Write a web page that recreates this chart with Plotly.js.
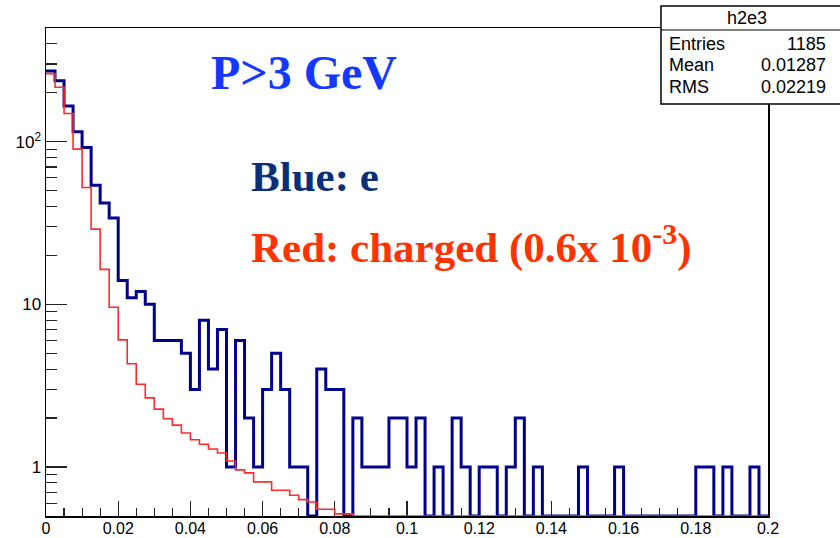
<!DOCTYPE html>
<html>
<head>
<meta charset="utf-8">
<script src="https://cdn.plot.ly/plotly-3.0.1.min.js"></script>
<style>html,body{margin:0;padding:0;background:#fff;}#chart{width:840px;height:538px;}</style>
</head>
<body>
<div id="chart"></div>
<script>
// ---- data ----
const binLow = 0.0;
const binWidth = 0.0025;   // 80 bins from 0 to 0.2
const blueCounts = [272, 237, 166, 115, 92, 54, 42, 34, 14, 11,
                    12, 10, 6, 6, 6, 5, 3, 8, 4, 7,
                    1, 6, 2, 1, 3, 5, 3, 1, 1, 0,
                    4, 3, 3, 0, 2, 1, 1, 1, 2, 2,
                    1, 2, 0, 1, 0, 2, 1, 0, 1, 1,
                    0, 1, 2, 0, 1, 0, 0, 0, 0, 1,
                    0, 0, 0, 1, 0, 0, 0, 0, 0, 0,
                    0, 0, 1, 1, 0, 1, 0, 0, 1, 0];
const redScaled = [262, 216, 149, 90, 52.3, 29.0, 16.4, 9.6, 6.05, 4.31,
                   3.23, 2.66, 2.27, 1.98, 1.81, 1.62, 1.47, 1.38, 1.29, 1.22,
                   1.09, 0.96, 0.92, 0.81, 0.81, 0.72, 0.72, 0.67, 0.63, 0.61,
                   0.55, 0.55, 0.515, 0.515, 0.5, 0.5, 0.5, 0.5, 0.5, 0.5,
                   0.5, 0.5, 0.5, 0.5, 0.5, 0.5, 0.5, 0.5, 0.5, 0.5,
                   0.5, 0.5, 0.5, 0.5, 0.5, 0.5, 0.5, 0.5, 0.5, 0.5,
                   0.5, 0.5, 0.5, 0.5, 0.5, 0.5, 0.5, 0.5, 0.5, 0.5,
                   0.5, 0.5, 0.5, 0.5, 0.5, 0.5, 0.5, 0.5, 0.5, 0.5];
const xTickVals = [0, 0.02, 0.04, 0.06, 0.08, 0.1, 0.12, 0.14, 0.16, 0.18, 0.2];
const yTickVals = [1, 10, 100];
const yTickText = ['1', '10', '10<sup>2</sup>'];
const yMinorVals = [0.6, 0.7, 0.8, 0.9, 2, 3, 4, 5, 6, 7, 8, 9, 20, 30, 40, 50, 60, 70, 80, 90, 200, 300, 400];
const statsTitle = 'h2e3';
const statsNames = ['Entries', 'Mean', 'RMS'];
const statsValues = ['1185', '0.01287', '0.02219'];
const yMin = 0.5, yMax = 500;

// ---- build step traces (ROOT-like: values below the floor are drawn on the floor) ----
function stepXY(vals) {
  const xs = [], ys = [];
  for (let i = 0; i < vals.length; i++) {
    xs.push(binLow + i * binWidth);
    ys.push(Math.max(vals[i], yMin));
  }
  xs.push(binLow + vals.length * binWidth);
  ys.push(Math.max(vals[vals.length - 1], yMin));
  return {xs, ys};
}
const b = stepXY(blueCounts);
const r = stepXY(redScaled);

const traces = [
  {x: b.xs, y: b.ys, type: 'scatter', mode: 'lines', cliponaxis: true,
   line: {shape: 'hv', color: '#00008f', width: 3}, hoverinfo: 'skip', showlegend: false},
  {x: r.xs, y: r.ys, type: 'scatter', mode: 'lines',
   line: {shape: 'hv', color: '#ff2a2a', width: 1.6}, hoverinfo: 'skip', showlegend: false}
];

// plot area in pixels
const L = 46, R = 768, T = 28, B = 516;
const px2x = p => (p - L) / (R - L);
const px2y = p => (B - p) / (B - T);

const serif = 'Liberation Serif, Times New Roman, serif';
const sans = 'Liberation Sans, Arial, Helvetica, sans-serif';

const boxL = 661, boxR = 845, boxT = 6, boxB = 104, boxDiv = 30;

const shapes = [
  {type: 'rect', xref: 'paper', yref: 'paper', layer: 'above',
   x0: px2x(boxL), x1: px2x(boxR), y0: px2y(boxB), y1: px2y(boxT),
   fillcolor: '#ffffff', line: {color: '#000', width: 1.5}},
  {type: 'line', xref: 'paper', yref: 'paper', layer: 'above',
   x0: px2x(boxL), x1: px2x(boxR), y0: px2y(boxDiv), y1: px2y(boxDiv),
   line: {color: '#000', width: 1}}
];

const annotations = [
  {xref: 'paper', yref: 'paper', x: px2x(747), y: px2y(18), text: statsTitle, showarrow: false,
   xanchor: 'center', yanchor: 'middle', font: {family: sans, size: 18, color: '#000'}}
];
const rowY = [44, 65, 87];
for (let i = 0; i < statsNames.length; i++) {
  annotations.push({xref: 'paper', yref: 'paper', x: px2x(667), y: px2y(rowY[i]), text: statsNames[i],
    showarrow: false, xanchor: 'left', yanchor: 'middle', font: {family: sans, size: 18, color: '#000'}});
  annotations.push({xref: 'paper', yref: 'paper', x: px2x(828), y: px2y(rowY[i]), text: statsValues[i],
    showarrow: false, xanchor: 'right', yanchor: 'middle', font: {family: sans, size: 18, color: '#000'}});
}
annotations.push(
  {xref: 'paper', yref: 'paper', x: px2x(209), y: px2y(73), text: '<b>P&gt;3 GeV</b>', showarrow: false,
   xanchor: 'left', yanchor: 'middle', font: {family: serif, size: 48, color: '#1438ff'}},
  {xref: 'paper', yref: 'paper', x: px2x(249), y: px2y(176), text: '<b>Blue: e</b>', showarrow: false,
   xanchor: 'left', yanchor: 'middle', font: {family: serif, size: 43, color: '#0a2f78'}},
  {xref: 'paper', yref: 'paper', x: px2x(249), y: px2y(244), text: '<b>Red: charged (0.6x 10<sup>-3</sup>)</b>', showarrow: false,
   xanchor: 'left', yanchor: 'middle', font: {family: serif, size: 43, color: '#ff3300'}}
);

const layout = {
  width: 840, height: 538,
  margin: {l: L, r: 840 - R, t: T, b: 538 - B, pad: 0},
  paper_bgcolor: '#fff', plot_bgcolor: '#fff',
  showlegend: false,
  xaxis: {
    range: [0, 0.2], showgrid: false, zeroline: false,
    showline: true, linecolor: '#000', linewidth: 1.5, mirror: true,
    layer: 'below traces',
    ticks: 'inside', ticklen: 15, tickwidth: 1.2, tickcolor: '#222',
    tickvals: xTickVals, ticklabelstandoff: -3,
    minor: {dtick: 0.005, tick0: 0, ticks: 'inside', ticklen: 8, tickwidth: 1.2, tickcolor: '#222', showgrid: false},
    tickfont: {family: sans, size: 16, color: '#000'}
  },
  yaxis: {
    type: 'log', range: [Math.log10(yMin), Math.log10(yMax)],
    showgrid: false, zeroline: false,
    showline: true, linecolor: '#000', linewidth: 1.5, mirror: true,
    layer: 'below traces',
    ticks: 'inside', ticklen: 21, tickwidth: 1.2, tickcolor: '#222',
    tickvals: yTickVals, ticktext: yTickText,
    minor: {tickvals: yMinorVals, ticks: 'inside', ticklen: 11, tickwidth: 1.2, tickcolor: '#222', showgrid: false},
    tickfont: {family: sans, size: 17, color: '#000'}
  },
  shapes: shapes,
  annotations: annotations
};

Plotly.newPlot('chart', traces, layout, {staticPlot: true, displayModeBar: false});
</script>
</body>
</html>
